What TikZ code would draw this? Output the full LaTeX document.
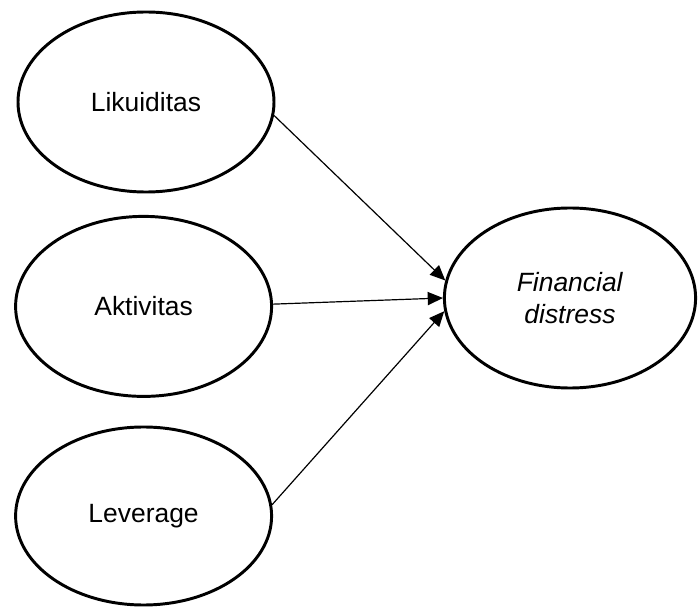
\documentclass[tikz,border=0pt]{standalone}
\usepackage{fontspec}
\setmainfont{Liberation Sans}
\usepackage{tikz}
\usetikzlibrary{arrows.meta,shapes.geometric}

\begin{document}
\begin{tikzpicture}[font=\fontsize{18.8}{22.8}\selectfont, >={Triangle[length=3.8mm,width=3.3mm]},
  var/.style={ellipse, draw=black, line width=2.1pt, align=center,
              minimum width=6.4cm, minimum height=4.5cm, inner sep=0pt},
  path/.style={->, line width=0.85pt}]
  \useasboundingbox (0,0) rectangle (17.45,15.2);
  \node[var] (lik) at (3.65,12.65) {Likuiditas};
  \node[var] (akt) at (3.59,7.54)  {Aktivitas};
  \node[var, minimum height=4.45cm] (lev) at (3.59,2.3) {Leverage};
  \node[var, minimum width=6.28cm] (fd) at (14.25,7.75) {\textit{Financial}\\ \textit{distress}};
  \draw[path] (lik.354) -- (fd.172);
  \draw[path] (akt.1)   -- (fd.180);
  \draw[path] (lev.5)   -- (fd.186);
\end{tikzpicture}
\end{document}
